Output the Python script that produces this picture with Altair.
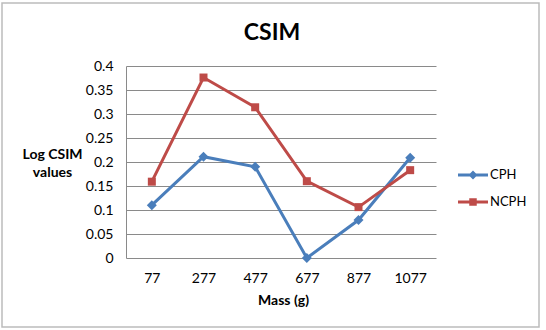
import altair as alt
import pandas as pd

masses = ["77", "277", "477", "677", "877", "1077"]
cph = [0.11, 0.211, 0.19, 0.0, 0.079, 0.209]
ncph = [0.159, 0.376, 0.314, 0.16, 0.106, 0.183]
series = ["CPH", "NCPH"]
colors = ["#4A7EBB", "#BE4B48"]
y_ticks = [0, 0.05, 0.1, 0.15, 0.2, 0.25, 0.3, 0.35, 0.4]

rows = []
for m, a, b in zip(masses, cph, ncph):
    rows.append({"mass": m, "series": "CPH", "value": a})
    rows.append({"mass": m, "series": "NCPH", "value": b})
df = pd.DataFrame(rows)

FONT = "Lato"
GRID = "#8a8a8a"

x = alt.X(
    "mass:N", sort=masses, scale=alt.Scale(domain=masses),
    axis=alt.Axis(title="Mass (g)", labelAngle=0, domain=False, ticks=False, tickSize=0,
                  grid=False, labelPadding=13, labelFont=FONT, labelFontSize=14,
                  labelColor="#000", titleFont=FONT, titleFontSize=14, titleFontWeight="bold",
                  titleColor="#000", titleX=157, titleY=42, titleBaseline="middle"))
y = alt.Y(
    "value:Q", scale=alt.Scale(domain=[0, 0.4], nice=False, zero=True),
    axis=alt.Axis(values=y_ticks, format="~g", title=["Log CSIM", "values"], titleAngle=0,
                  titleX=-74, titleY=81, titleAlign="center", titleBaseline="top",
                  titleLineHeight=18, titleFont=FONT, titleFontSize=14, titleFontWeight="bold",
                  titleColor="#000", ticks=False, tickSize=0, labelPadding=13, labelFont=FONT,
                  labelFontSize=14, labelColor="#000", domain=True, domainColor=GRID,
                  grid=True, gridColor=GRID, gridWidth=1))
# colour domain comes from the data (sorted: CPH, NCPH)
color = alt.Color("series:N", scale=alt.Scale(range=colors), legend=None)

base = alt.Chart(df)

line = base.mark_line(strokeWidth=3).encode(x=x, y=y, color=color)
pts_c = base.mark_point(shape="diamond", filled=True, size=100, opacity=1).encode(
    x=x, y=y, color=color).transform_filter("datum.series == 'CPH'")
pts_n = base.mark_point(shape="square", filled=True, size=64, opacity=1).encode(
    x=x, y=y, color=color).transform_filter("datum.series == 'NCPH'")

path_d = "M-1,-0.1H1V0.1H-1Z M0,-0.3L0.3,0L0,0.3L-0.3,0Z"
path_s = "M-1,-0.1H1V0.1H-1Z M-0.25,-0.25H0.25V0.25H-0.25Z"
leg = alt.Legend(title=None, orient="none", legendX=332, legendY=102, symbolSize=900,
                 clipHeight=14, rowPadding=13, labelOffset=2, labelFont=FONT,
                 labelFontSize=13, labelColor="#000", symbolStrokeWidth=0, padding=0)
legend_layer = base.transform_filter("datum.value < -1").transform_calculate(
    lseries="datum.series").mark_point(filled=True, opacity=1).encode(
    x=x, y=y,
    fill=alt.Fill("lseries:N", scale=alt.Scale(domain=series, range=colors), legend=leg),
    shape=alt.Shape("lseries:N", scale=alt.Scale(domain=series, range=[path_d, path_s]), legend=leg),
)

border = alt.Chart(pd.DataFrame({"k": [0]})).mark_rect(
    fillOpacity=0, stroke="#bcbcbc", strokeWidth=1.5).encode(
    x=alt.value(-124), x2=alt.value(413), y=alt.value(-63), y2=alt.value(261))

chart = alt.layer(border, line, pts_c, pts_n, legend_layer).properties(
    width=310, height=192,
    padding={"left": 126, "top": 66, "right": 110, "bottom": 72},
    autosize=alt.AutoSizeParams(type="none"),
    title=alt.TitleParams(text="CSIM", font=FONT, fontSize=23, fontWeight="bold",
                          anchor="middle", frame="group", baseline="alphabetic",
                          offset=0, dy=61, dx=-9, color="#000"),
    background="white",
).configure_view(stroke=None)

chart.save("out.html", embed_options={"renderer": "svg", "actions": False})
